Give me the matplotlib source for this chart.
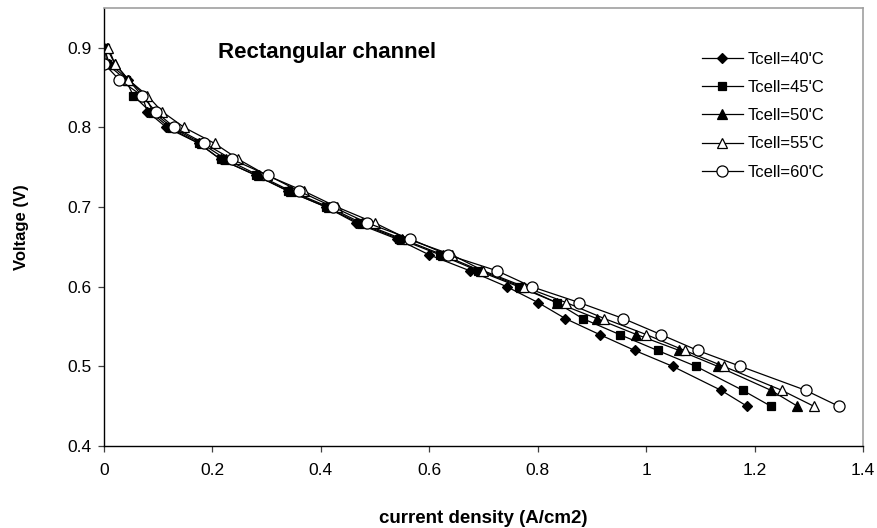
import matplotlib
matplotlib.use("Agg")
import matplotlib.pyplot as plt
from matplotlib.ticker import FuncFormatter, MultipleLocator

plt.rcParams['font.family'] = ['Liberation Sans', 'DejaVu Sans']

# Cell voltage levels (V) and measured current density (A/cm2) per cell temperature
voltage = [0.90, 0.88, 0.86, 0.84, 0.82, 0.80, 0.78, 0.76, 0.74, 0.72, 0.70, 0.68,
           0.66, 0.64, 0.62, 0.60, 0.58, 0.56, 0.54, 0.52, 0.50, 0.47, 0.45]
voltage_60 = voltage[1:]

current_40 = [0.000, 0.010, 0.045, 0.070, 0.080, 0.115, 0.175, 0.215, 0.280, 0.340, 0.410, 0.465,
              0.540, 0.600, 0.675, 0.743, 0.801, 0.851, 0.914, 0.979, 1.049, 1.138, 1.186]
current_45 = [0.002, 0.005, 0.040, 0.054, 0.085, 0.120, 0.175, 0.215, 0.280, 0.340, 0.410, 0.470,
              0.545, 0.620, 0.690, 0.765, 0.835, 0.883, 0.951, 1.021, 1.092, 1.178, 1.230]
current_50 = [0.005, 0.020, 0.045, 0.076, 0.090, 0.125, 0.180, 0.225, 0.285, 0.345, 0.415, 0.475,
              0.550, 0.625, 0.695, 0.770, 0.835, 0.909, 0.982, 1.061, 1.132, 1.230, 1.279]
current_55 = [0.008, 0.020, 0.045, 0.080, 0.107, 0.148, 0.204, 0.248, 0.300, 0.369, 0.430, 0.500,
              0.560, 0.642, 0.700, 0.775, 0.853, 0.923, 1.000, 1.071, 1.143, 1.250, 1.309]
current_60 = [0.000, 0.028, 0.070, 0.095, 0.130, 0.185, 0.236, 0.302, 0.360, 0.423, 0.486,
              0.565, 0.634, 0.725, 0.789, 0.877, 0.958, 1.027, 1.095, 1.174, 1.294, 1.355]

labels = ["Tcell=40'C", "Tcell=45'C", "Tcell=50'C", "Tcell=55'C", "Tcell=60'C"]

fig = plt.figure(figsize=(8.77, 5.28), dpi=100)
ax = fig.add_axes([104 / 877, 82 / 528, 759 / 877, 438 / 528])

series = [
    (current_40, voltage, 'D', 'black', 5.5),
    (current_45, voltage, 's', 'black', 5.5),
    (current_50, voltage, '^', 'black', 7),
    (current_55, voltage, '^', 'white', 7),
    (current_60, voltage_60, 'o', 'white', 8),
]
for (x, y, m, fc, ms), lab in zip(series, labels):
    ax.plot(x, y, color='black', lw=0.9, marker=m, markersize=ms,
            markerfacecolor=fc, markeredgecolor='black', markeredgewidth=0.9,
            label=lab)

ax.set_xlim(0, 1.4)
ax.set_ylim(0.4, 0.95)
ax.xaxis.set_major_locator(MultipleLocator(0.2))
ax.yaxis.set_major_locator(MultipleLocator(0.1))
fmt = FuncFormatter(lambda v, p: ('%.1f' % v).rstrip('0').rstrip('.') if abs(v) > 1e-9 else '0')
ax.xaxis.set_major_formatter(fmt)
ax.yaxis.set_major_formatter(fmt)
ax.tick_params(direction='out', length=4, width=0.9, color='#404040',
               labelsize=12.5, labelcolor='black')
ax.tick_params(axis='x', pad=8)
ax.tick_params(axis='y', pad=5)

for side in ('left', 'bottom'):
    ax.spines[side].set_color('black')
    ax.spines[side].set_linewidth(1.0)
for side in ('top', 'right'):
    ax.spines[side].set_color('#a0a0a0')
    ax.spines[side].set_linewidth(1.2)

ax.set_xlabel('current density (A/cm2)', fontsize=13.5, fontweight='bold', labelpad=23.5)
ax.set_ylabel('Voltage (V)', fontsize=12, fontweight='bold', labelpad=27.5)

ax.text(0.150, 0.898, 'Rectangular channel', transform=ax.transAxes,
        fontsize=16, fontweight='bold', ha='left', va='center')

ax.legend(loc='upper left', bbox_to_anchor=(0.779, 0.915), frameon=False,
          fontsize=12, handlelength=2.45, handletextpad=0.28, labelspacing=0.79,
          borderaxespad=0)

fig.savefig('out.png', dpi=100)
